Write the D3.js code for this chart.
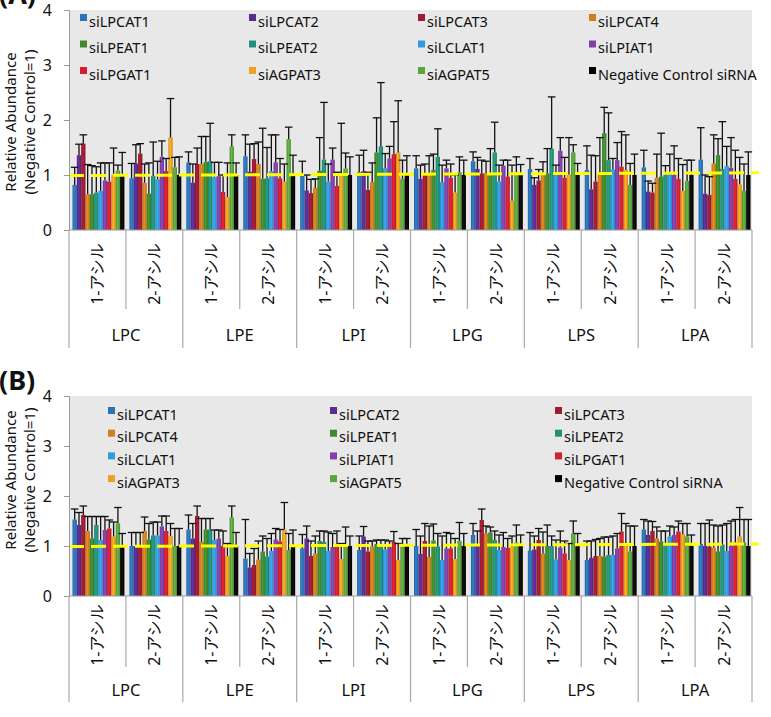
<!DOCTYPE html>
<html>
<head>
<meta charset="utf-8">
<script src="https://cdn.jsdelivr.net/npm/d3@7"></script>
<style>
  body { margin: 0; background: #fff; }
  text { font-family: "Noto Sans", "Noto Sans CJK JP", sans-serif; fill: #111; }
</style>
</head>
<body>
<script>
var width = 771, height = 717

var classes = ["LPC", "LPE", "LPI", "LPG", "LPS", "LPA"]
var acyl = ["1-アシル", "2-アシル"]
var series = ["siLPCAT1", "siLPCAT2", "siLPCAT3", "siLPCAT4", "siLPEAT1", "siLPEAT2",
              "siLCLAT1", "siLPIAT1", "siLPGAT1", "siAGPAT3", "siAGPAT5", "Negative Control siRNA"]
var colors = ["#2a73b8", "#5a2d91", "#9e1b32", "#d07f1c", "#3d8b2e", "#23917a",
              "#2e9be0", "#8040a8", "#d31f2f", "#f0a020", "#5aa43c", "#000000"]
var yTicks = [0, 1, 2, 3, 4]

// panel (A): one row per class/acyl group, one value per series
var aMean = [
  [0.82, 1.36, 1.57, 0.65, 0.65, 0.68, 0.71, 0.90, 0.88, 1.00, 1.08, 1.00],
  [0.94, 1.21, 1.39, 0.86, 0.66, 0.98, 0.92, 1.33, 1.07, 1.68, 1.14, 1.00],
  [1.23, 0.86, 1.20, 1.20, 1.24, 1.25, 0.96, 0.98, 0.69, 0.60, 1.52, 1.00],
  [1.34, 1.06, 1.29, 1.20, 0.93, 0.94, 1.07, 1.23, 0.94, 0.88, 1.65, 1.00],
  [1.00, 0.72, 0.67, 0.77, 1.08, 1.28, 0.88, 1.28, 0.80, 1.02, 1.12, 1.00],
  [1.05, 1.07, 0.73, 0.87, 1.41, 1.52, 1.12, 1.30, 1.38, 1.41, 0.93, 1.00],
  [1.12, 0.93, 1.00, 1.00, 1.09, 1.33, 0.87, 1.12, 0.95, 0.68, 1.05, 1.00],
  [1.25, 1.11, 1.03, 1.03, 1.03, 1.41, 0.88, 1.17, 0.97, 0.53, 1.05, 1.00],
  [1.11, 0.82, 0.90, 1.02, 1.03, 1.48, 1.05, 1.44, 0.95, 1.01, 1.41, 1.00],
  [1.09, 0.74, 0.88, 1.02, 1.76, 1.27, 1.10, 1.27, 1.15, 1.09, 0.82, 1.00],
  [1.14, 0.70, 0.68, 0.95, 0.97, 1.00, 1.03, 1.00, 0.93, 0.71, 0.89, 1.00],
  [1.28, 0.66, 0.64, 1.21, 1.36, 1.11, 1.16, 1.13, 0.93, 0.83, 0.71, 1.00]
]
var aUpper = [
  [1.14, 1.56, 1.73, 1.19, 1.17, 1.15, 1.22, 1.22, 1.22, 1.49, 1.18, 1.41],
  [1.21, 1.55, 1.57, 1.20, 1.22, 1.60, 1.25, 1.62, 1.30, 2.39, 1.32, 1.33],
  [1.42, 1.20, 1.49, 1.70, 1.70, 1.94, 1.23, 1.23, 1.00, 1.22, 1.73, 1.22],
  [1.73, 1.56, 1.57, 1.60, 1.85, 1.50, 1.73, 1.73, 1.30, 1.20, 1.87, 1.36],
  [1.25, 1.00, 0.92, 0.93, 1.68, 2.32, 1.20, 1.49, 1.05, 1.94, 1.40, 1.33],
  [1.36, 1.45, 1.05, 1.22, 2.04, 2.68, 1.39, 1.52, 1.97, 2.35, 1.27, 1.35],
  [1.35, 1.18, 1.20, 1.35, 1.38, 1.84, 1.18, 1.27, 1.20, 1.00, 1.33, 1.27],
  [1.42, 1.32, 1.27, 1.25, 1.48, 1.96, 1.18, 1.27, 1.27, 1.18, 1.33, 1.19],
  [1.30, 0.95, 1.10, 1.24, 1.48, 2.42, 1.18, 1.68, 1.32, 1.68, 1.55, 1.21],
  [1.53, 1.36, 1.35, 1.68, 2.23, 2.13, 1.30, 1.59, 1.79, 1.73, 1.21, 1.38],
  [1.45, 0.89, 0.85, 1.38, 1.76, 1.17, 1.38, 1.53, 1.30, 1.19, 1.27, 1.27],
  [1.86, 1.00, 0.97, 1.73, 1.66, 1.97, 1.52, 1.68, 1.45, 1.32, 1.20, 1.42]
]

// panel (B)
var bMean = [
  [1.53, 1.42, 1.62, 1.30, 1.15, 1.42, 1.12, 1.32, 1.35, 1.19, 1.45, 1.00],
  [1.00, 1.00, 1.00, 1.30, 1.13, 1.21, 1.21, 1.39, 1.30, 1.20, 1.00, 1.00],
  [1.33, 1.15, 1.60, 1.08, 1.33, 1.33, 1.12, 1.15, 1.00, 0.80, 1.57, 1.00],
  [0.75, 0.57, 0.62, 0.73, 0.89, 0.79, 0.90, 1.13, 1.09, 1.33, 0.92, 1.00],
  [0.95, 1.15, 0.80, 0.85, 1.10, 1.08, 0.90, 0.98, 1.04, 0.74, 0.98, 1.00],
  [0.92, 1.19, 0.89, 0.99, 1.04, 0.99, 0.93, 0.98, 1.08, 0.72, 0.99, 1.00],
  [1.00, 0.84, 1.10, 0.78, 1.11, 0.99, 0.72, 0.95, 0.95, 0.74, 1.10, 1.00],
  [1.22, 1.00, 1.52, 1.25, 1.27, 1.12, 0.92, 0.98, 0.96, 0.98, 1.07, 1.00],
  [0.91, 0.93, 1.12, 0.85, 1.00, 1.00, 0.73, 0.97, 0.85, 0.72, 1.25, 1.00],
  [0.72, 0.76, 0.80, 0.80, 0.79, 0.82, 0.82, 0.95, 1.29, 1.00, 0.89, 1.00],
  [1.33, 1.22, 1.30, 1.15, 1.09, 1.04, 1.19, 1.22, 1.29, 1.24, 1.19, 1.00],
  [1.04, 1.00, 0.99, 0.97, 0.89, 1.03, 0.90, 1.00, 1.07, 1.19, 1.07, 1.00]
]
var bUpper = [
  [1.74, 1.67, 1.80, 1.59, 1.59, 1.59, 1.59, 1.59, 1.52, 1.48, 1.77, 1.25],
  [1.27, 1.27, 1.27, 1.58, 1.45, 1.48, 1.48, 1.60, 1.60, 1.45, 1.35, 1.35],
  [1.62, 1.45, 1.80, 1.55, 1.55, 1.55, 1.32, 1.32, 1.30, 1.05, 1.80, 1.27],
  [1.53, 0.85, 0.95, 1.10, 1.20, 1.15, 1.25, 1.35, 1.33, 1.87, 1.25, 1.32],
  [1.23, 1.40, 1.10, 1.20, 1.30, 1.30, 1.28, 1.25, 1.30, 1.05, 1.38, 1.20],
  [1.20, 1.39, 1.10, 1.10, 1.12, 1.12, 1.12, 1.10, 1.29, 1.05, 1.15, 1.15],
  [1.33, 1.20, 1.45, 1.40, 1.44, 1.25, 1.20, 1.27, 1.25, 1.15, 1.47, 1.25],
  [1.45, 1.30, 1.74, 1.40, 1.38, 1.30, 1.22, 1.27, 1.15, 1.20, 1.42, 1.22],
  [1.27, 1.20, 1.35, 1.28, 1.42, 1.20, 1.12, 1.30, 1.10, 1.05, 1.50, 1.25],
  [1.10, 1.10, 1.13, 1.15, 1.18, 1.18, 1.20, 1.25, 1.65, 1.45, 1.40, 1.40],
  [1.53, 1.50, 1.49, 1.38, 1.30, 1.30, 1.40, 1.38, 1.50, 1.45, 1.45, 1.22],
  [1.45, 1.45, 1.52, 1.42, 1.40, 1.42, 1.45, 1.50, 1.53, 1.77, 1.53, 1.53]
]

// the dashed reference line, as drawn (left end, right end)
var refLine = [0.99, 1.04]

var svg = d3.select("body").append("svg")
    .attr("width", width)
    .attr("height", height)

// bar gradients, lighter in the middle like the original
var defs = svg.append("defs")
colors.forEach(function(c, i) {
  var grad = defs.append("linearGradient").attr("id", "g" + i)
  var base = d3.color(c)
  grad.append("stop").attr("offset", "0%").attr("stop-color", i == 11 ? "#000" : base.darker(0.4))
  grad.append("stop").attr("offset", "45%").attr("stop-color", i == 11 ? "#111" : base.brighter(0.35))
  grad.append("stop").attr("offset", "100%").attr("stop-color", i == 11 ? "#000" : base.darker(0.5))
})

var groups = d3.range(12).map(function(i) {
  return {cls: classes[Math.floor(i / 2)], acyl: acyl[i % 2], i: i}
})

function drawPanel(opt) {
  var left = 69, right = 752
  var g = svg.append("g")

  var x0 = d3.scaleBand().domain(d3.range(12)).range([left, right])
  var x1 = d3.scaleBand().domain(series).range([3.5, x0.bandwidth() - 1.5])
  var y = d3.scaleLinear().domain([0, 4]).range([opt.bottom, opt.top])

  g.append("rect")
      .attr("x", left).attr("y", y(4))
      .attr("width", right - left).attr("height", y(0) - y(4))
      .attr("fill", "#e8e8e8")

  // legend
  var leg = g.selectAll(".leg")
      .data(series)
    .enter().append("g")
      .attr("transform", function(d, i) {
        var c = i % opt.legCols, r = Math.floor(i / opt.legCols)
        return "translate(" + opt.legX[c] + "," + (opt.legY + r * opt.legStep) + ")"
      })
  leg.append("rect")
      .attr("width", 7).attr("height", 7)
      .attr("fill", function(d, i) { return colors[i] })
  leg.append("text")
      .attr("x", 9).attr("y", 12.5)
      .attr("font-size", 14.5)
      .text(function(d) { return d })

  var grp = g.selectAll(".grp")
      .data(groups)
    .enter().append("g")
      .attr("transform", function(d) { return "translate(" + x0(d.i) + ",0)" })

  grp.selectAll(".bar")
      .data(function(d) { return series.map(function(s, k) { return {s: s, k: k, v: opt.mean[d.i][k], u: opt.upper[d.i][k]} }) })
    .enter().append("rect")
      .attr("x", function(d) { return x1(d.s) })
      .attr("width", x1.bandwidth())
      .attr("y", function(d) { return y(d.v) })
      .attr("height", function(d) { return y(0) - y(d.v) })
      .attr("fill", function(d) { return "url(#g" + d.k + ")" })

  var err = grp.selectAll(".err")
      .data(function(d) { return series.map(function(s, k) { return {s: s, v: opt.mean[d.i][k], u: opt.upper[d.i][k]} }) })
    .enter().append("g")
      .attr("stroke", "#111").attr("stroke-width", 1.3)
  err.append("line")
      .attr("x1", function(d) { return x1(d.s) + x1.bandwidth() / 2 })
      .attr("x2", function(d) { return x1(d.s) + x1.bandwidth() / 2 })
      .attr("y1", function(d) { return y(d.v) })
      .attr("y2", function(d) { return y(d.u) })
  err.append("line")
      .attr("x1", function(d) { return x1(d.s) + x1.bandwidth() / 2 - 3.8 })
      .attr("x2", function(d) { return x1(d.s) + x1.bandwidth() / 2 + 3.8 })
      .attr("y1", function(d) { return y(d.u) })
      .attr("y2", function(d) { return y(d.u) })

  // dashed line at 1
  g.append("line")
      .attr("x1", left).attr("x2", 759)
      .attr("y1", y(refLine[0])).attr("y2", y(refLine[1]))
      .attr("stroke", "#ffff00").attr("stroke-width", 3)
      .attr("stroke-dasharray", "15,7")

  // y axis
  var yAxis = g.append("g")
      .attr("transform", "translate(" + left + ",0)")
      .call(d3.axisLeft(y).tickValues(yTicks).tickSize(5).tickPadding(12).tickFormat(d3.format("d")))
  yAxis.select(".domain").attr("stroke", "#999")
  yAxis.selectAll(".tick line").attr("stroke", "#999")
  yAxis.selectAll("text").attr("font-size", 16).attr("font-family", "Noto Sans").attr("fill", "#111")

  g.append("line")
      .attr("x1", left).attr("x2", right)
      .attr("y1", y(0)).attr("y2", y(0))
      .attr("stroke", "#999")

  // category axis: separators and labels
  d3.range(13).forEach(function(i) {
    var xx = i < 12 ? x0(i) : right
    g.append("line")
        .attr("x1", xx).attr("x2", xx)
        .attr("y1", y(0)).attr("y2", i % 2 == 0 ? opt.clsLineEnd : opt.subLineEnd)
        .attr("stroke", "#aaa").attr("stroke-width", 1.2)
  })
  grp.append("text")
      .attr("transform", function(d) { return "translate(" + (x0.bandwidth() / 2) + "," + opt.subY + ") rotate(-90)" })
      .attr("text-anchor", "middle")
      .attr("dominant-baseline", "central")
      .attr("font-size", 16)
      .text(function(d) { return d.acyl })
  g.selectAll(".cls")
      .data(classes)
    .enter().append("text")
      .attr("x", function(d, i) { return x0(i * 2) + x0.bandwidth() })
      .attr("y", opt.clsY)
      .attr("text-anchor", "middle")
      .attr("font-size", 16.5)
      .text(function(d) { return d })

  // axis title
  g.append("text")
      .attr("transform", "translate(10," + opt.titleY + ") rotate(-90)")
      .attr("text-anchor", "middle").attr("dominant-baseline", "central")
      .attr("font-size", 15)
      .text("Relative Abundance")
  g.append("text")
      .attr("transform", "translate(29," + opt.titleY + ") rotate(-90)")
      .attr("text-anchor", "middle").attr("dominant-baseline", "central")
      .attr("font-size", 15)
      .text("(Negative Control=1)")

  g.append("text")
      .attr("x", -1).attr("y", opt.tagY)
      .attr("font-size", 27).attr("font-weight", "bold")
      .text(opt.tag)
}

drawPanel({
  tag: "(A)", tagY: 4,
  mean: aMean, upper: aUpper,
  top: 10, bottom: 230,
  legCols: 4, legX: [80, 249, 418, 589], legY: 14, legStep: 26.5,
  subY: 274, subLineEnd: 309, clsLineEnd: 348, clsY: 341,
  titleY: 122
})

drawPanel({
  tag: "(B)", tagY: 390,
  mean: bMean, upper: bUpper,
  top: 396, bottom: 596,
  legCols: 3, legX: [108, 330, 555], legY: 407, legStep: 22.7,
  subY: 635, subLineEnd: 667, clsLineEnd: 702, clsY: 696,
  titleY: 480
})
</script>
</body>
</html>
